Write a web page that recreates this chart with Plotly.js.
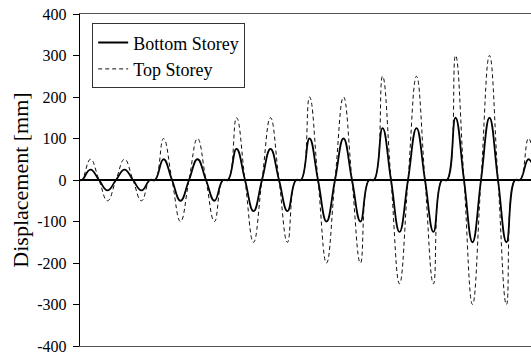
<!DOCTYPE html>
<html>
<head>
<meta charset="utf-8">
<script src="https://cdn.plot.ly/plotly-3.0.1.min.js"></script>
<style>html,body{margin:0;padding:0;background:#fff}#chart{width:531px;height:356px}</style>
</head>
<body>
<div id="chart"></div>
<script>
// time key points (zero crossings and peaks), seconds
var time = [0, 0.2, 1.05, 1.9, 2.75, 3.6, 4.45, 5.3, 6.15, 7.0,
  7.5, 8.35, 9.2, 10.05, 10.9, 11.75, 12.6, 13.45, 14.3,
  14.8, 15.65, 16.5, 17.35, 18.2, 19.05, 19.9, 20.75, 21.6,
  22.1, 22.95, 23.8, 24.65, 25.5, 26.35, 27.2, 28.05, 28.9,
  29.4, 30.25, 31.1, 31.95, 32.8, 33.65, 34.5, 35.35, 36.2,
  36.7, 37.55, 38.4, 39.25, 40.1, 40.95, 41.8, 42.65, 43.5,
  44.0, 44.85, 45.7];
var bottomStorey = [0, 0, 25, 0, -25, 0, 25, 0, -25, 0,
  0, 50, 0, -50, 0, 50, 0, -50, 0,
  0, 75, 0, -75, 0, 75, 0, -75, 0,
  0, 100, 0, -100, 0, 100, 0, -100, 0,
  0, 125, 0, -125, 0, 125, 0, -125, 0,
  0, 150, 0, -150, 0, 150, 0, -150, 0,
  0, 50, 0];
var topStorey = [0, 0, 50, 0, -50, 0, 50, 0, -50, 0,
  0, 100, 0, -100, 0, 100, 0, -100, 0,
  0, 150, 0, -150, 0, 150, 0, -150, 0,
  0, 200, 0, -200, 0, 200, 0, -200, 0,
  0, 250, 0, -250, 0, 250, 0, -250, 0,
  0, 300, 0, -300, 0, 300, 0, -300, 0,
  0, 100, 0];
var yTickVals = [-400, -300, -200, -100, 0, 100, 200, 300, 400];
var yTickText = ["-400", "-300", "-200", "-100", "0", "100", "200", "300", "400"];

var fam = "Liberation Serif, Times New Roman, serif";
var traces = [
  {x: time, y: bottomStorey, name: "Bottom Storey", mode: "lines",
   line: {color: "#000", width: 1.8, shape: "spline", smoothing: 1.3}},
  {x: time, y: topStorey, name: "Top Storey", mode: "lines",
   line: {color: "#111", width: 1, dash: "4px,3px", shape: "spline", smoothing: 1.3}}
];
var layout = {
  width: 531, height: 356,
  margin: {l: 80, r: 0, t: 14, b: 10},
  paper_bgcolor: "#fff", plot_bgcolor: "#fff",
  font: {family: fam, size: 16, color: "#000"},
  showlegend: true,
  legend: {x: 0.027, y: 0.972, xanchor: "left", yanchor: "top",
    bgcolor: "#fff", bordercolor: "#333", borderwidth: 1,
    font: {family: fam, size: 18, color: "#000"}, tracegroupgap: 0},
  xaxis: {range: [0, 45.1], showticklabels: false, ticks: "", showgrid: false,
    zeroline: false, showline: true, mirror: true, linecolor: "#555", linewidth: 1.3},
  yaxis: {range: [-400, 400], tickvals: yTickVals, ticktext: yTickText,
    ticks: "outside", ticklen: 6, tickcolor: "#000", showgrid: false,
    showline: true, linecolor: "#000", linewidth: 1.3,
    zeroline: true, zerolinecolor: "#000", zerolinewidth: 1.5,
    ticklabelstandoff: 3,
    tickfont: {family: fam, size: 16, color: "#000"},
    title: {text: "Displacement [mm]", font: {family: fam, size: 22, color: "#000"}, standoff: 2}}
};
Plotly.newPlot("chart", traces, layout, {displayModeBar: false, staticPlot: true});
</script>
</body>
</html>
